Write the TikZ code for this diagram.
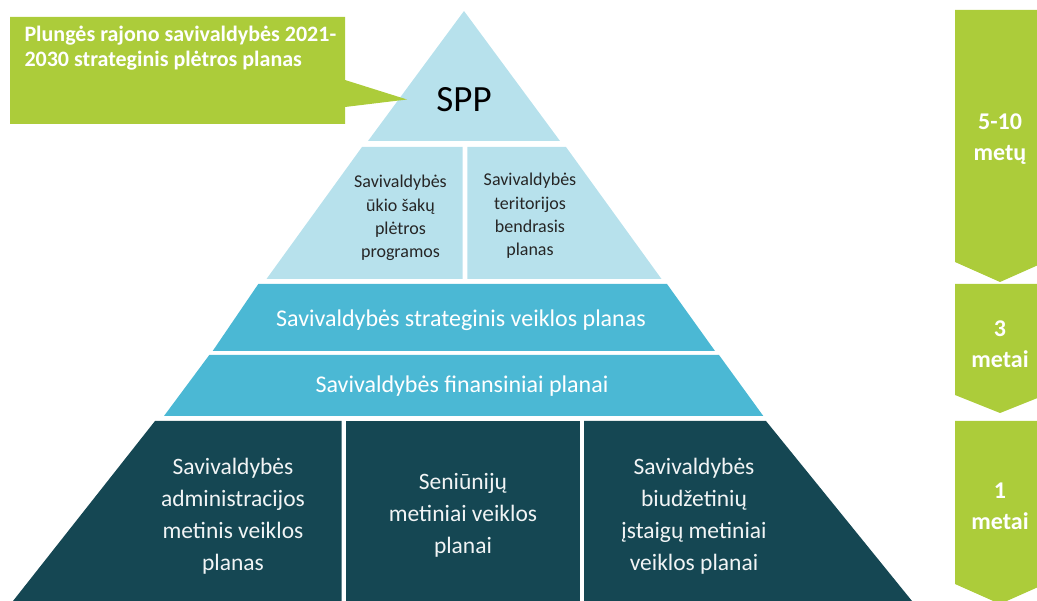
\documentclass[tikz,border=0pt]{standalone}
\usepackage{fontspec}
\setmainfont{Carlito}
\definecolor{lime}{RGB}{172,204,58}
\definecolor{paleblue}{RGB}{183,225,236}
\definecolor{midblue}{RGB}{75,184,212}
\definecolor{darkteal}{RGB}{21,71,83}
\definecolor{darktext}{RGB}{38,38,38}
\tikzset{
  pale/.style={fill=paleblue},
  mid/.style={fill=midblue},
  dark/.style={fill=darkteal},
  green/.style={fill=lime},
  smalltxt/.style={text=darktext, align=center, font=\fontsize{18}{23.3}\selectfont},
  midtxt/.style={text=white, align=center, font=\fontsize{24}{26}\selectfont},
  bigtxt/.style={text=white!94!darkteal, align=center, font=\fontsize{23.5}{32}\selectfont},
  greentxt/.style={text=white, font=\bfseries\fontsize{22}{25}\selectfont},
  chevtxt/.style={text=white, align=center, font=\bfseries\fontsize{24}{31}\selectfont},
}
\begin{document}
\begin{tikzpicture}[x=1pt,y=-1pt]
\useasboundingbox (0,0) rectangle (1037,601);
% SPP triangle
\fill[pale] (464,11) -- (560,141) -- (368,141) -- cycle;
\node[font=\fontsize{37}{40}\selectfont, text=black] (spp) at (464,100) {SPP};
% layer 2
\fill[pale] (362,147) -- (462.7,147) -- (462.7,279) -- (266.5,279) -- cycle;
\fill[pale] (467.3,147) -- (566,147) -- (661.5,279) -- (467.3,279) -- cycle;
\node[smalltxt] (ukio) at (400.5,218) {Savivaldybės\\ūkio šakų\\plėtros\\programos};
\node[smalltxt] (terit) at (530,216) {Savivaldybės\\teritorijos\\bendrasis\\planas};
% layer 3
\fill[mid] (258.3,284) -- (667,284) -- (715,351) -- (212.7,351) -- cycle;
\node[midtxt] (svp) at (461,320) {Savivaldybės strateginis veiklos planas};
% layer 4
\fill[mid] (209.3,355) -- (719,355) -- (763.3,416) -- (164,416) -- cycle;
\node[midtxt] (fin) at (462,386) {Savivaldybės finansiniai planai};
% layer 5
\fill[dark] (155,421) -- (341.7,421) -- (341.7,601) -- (13,601) -- cycle;
\fill[dark] (346,421) -- (580,421) -- (580,601) -- (346,601) -- cycle;
\fill[dark] (584,421) -- (766,421) -- (912,601) -- (584,601) -- cycle;
\node[bigtxt] (adm) at (233,516) {Savivaldybės\\administracijos\\metinis veiklos\\planas};
\node[bigtxt] (sen) at (463,515) {Seniūnijų\\metiniai veiklos\\planai};
\node[bigtxt] (biud) at (694,516) {Savivaldybės\\biudžetinių\\įstaigų metiniai\\veiklos planai};
% callout
\fill[green] (10,17) -- (345,17) -- (345,80) -- (407,99.5) -- (345,107) -- (345,124) -- (10,124) -- cycle;
\node[greentxt, anchor=base west] (cl1) at (21,41.5) {Plungės rajono savivaldybės 2021-};
\node[greentxt, anchor=base west] (cl2) at (21,66.5) {2030 strateginis plėtros planas};
% chevrons
\fill[green] (955,10) -- (1045,10) -- (1045,262) -- (1000,282) -- (955,262) -- cycle;
\fill[green] (955,284) -- (1045,284) -- (1045,395) -- (1000,413) -- (955,395) -- cycle;
\fill[green] (955,421) -- (1045,421) -- (1045,584) -- (1000,604) -- (955,584) -- cycle;
\node[chevtxt] (c1) at (1000,139) {5-10\\metų};
\node[chevtxt] (c2) at (1000,344) {3\\metai};
\node[chevtxt] (c3) at (1000,506) {1\\metai};
\end{tikzpicture}
\end{document}
